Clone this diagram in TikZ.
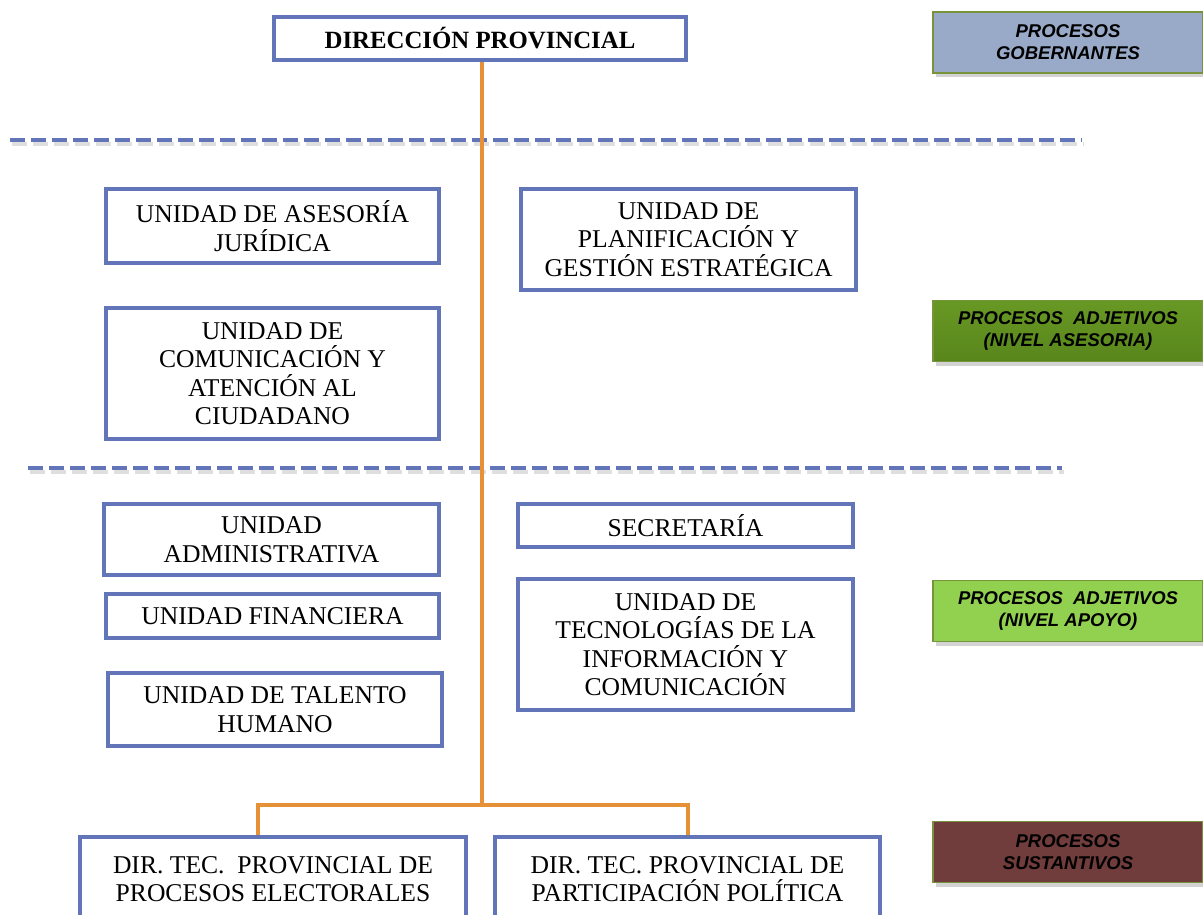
\documentclass[tikz,border=0pt]{standalone}
\usepackage{fontspec}
\setmainfont{Liberation Serif}
\newfontfamily\procfont{Liberation Sans}
\usetikzlibrary{shadows}

\definecolor{boxblue}{RGB}{98,117,184}
\definecolor{lineorange}{RGB}{230,145,56}
\definecolor{procgreen}{RGB}{119,147,60}
\definecolor{govblue}{RGB}{152,170,199}
\definecolor{advgreen}{RGB}{88,134,28}
\definecolor{advgreentop}{RGB}{104,152,36}
\definecolor{supgreen}{RGB}{146,208,80}
\definecolor{submaroon}{RGB}{112,60,60}

\begin{document}
\begin{tikzpicture}[
    x=1pt, y=-1pt,
    unitbox/.style={draw=boxblue, line width=4pt, fill=white, align=center,
        inner sep=0pt, font=\fontsize{25.6}{28.5}\selectfont},
    topbox/.style={unitbox, font=\fontsize{24.8}{28}\selectfont\bfseries},
    orgline/.style={draw=lineorange, line width=4pt},
    levelline/.style={draw=boxblue, line width=4pt, dash pattern=on 15pt off 6pt},
    levelshadow/.style={draw=black!25, line width=4pt, dash pattern=on 15pt off 6pt, opacity=0.5},
    proclabel/.style={draw=procgreen, line width=1.5pt, align=center, inner sep=0pt,
        minimum width=270pt, minimum height=61pt,
        font=\procfont\fontsize{18.5}{22}\selectfont\bfseries\itshape,
        drop shadow={shadow xshift=3pt, shadow yshift=-4pt, opacity=0.35}}
]
\useasboundingbox (0,0) rectangle (1203,914);

% ---------- Level separators ----------
\draw[levelshadow] (12,144) -- (1084,144);
\draw[levelline] (10,140) -- (1082,140);
\draw[levelshadow] (30,472) -- (1064,472);
\draw[levelline] (28,468) -- (1062,468);

% ---------- Boxes ----------
\node[topbox, minimum width=412pt, minimum height=43pt] (dirprov) at (480,38)
    {DIRECCIÓN PROVINCIAL};

\node[unitbox, minimum width=333pt, minimum height=74pt] (juridica) at (272.5,226)
    {UNIDAD DE ASESORÍA\\JURÍDICA};
\node[unitbox, minimum width=335pt, minimum height=101pt] (planificacion) at (688.5,239.5)
    {UNIDAD DE\\PLANIFICACIÓN Y\\GESTIÓN ESTRATÉGICA};
\node[unitbox, minimum width=333pt, minimum height=131pt] (comunicacion) at (272.5,373.5)
    {UNIDAD DE\\COMUNICACIÓN Y\\ATENCIÓN AL\\CIUDADANO};

\node[unitbox, minimum width=335pt, minimum height=71pt] (administrativa) at (271.5,539.5)
    {UNIDAD\\ADMINISTRATIVA};
\node[unitbox, minimum width=335pt, minimum height=43pt] (secretaria) at (685.5,525.5)
    {SECRETARÍA};
\node[unitbox, minimum width=333pt, minimum height=44pt] (financiera) at (272.5,616)
    {UNIDAD FINANCIERA};
\node[unitbox, minimum width=335pt, minimum height=131pt] (tecnologias) at (685.5,644.5)
    {UNIDAD DE\\TECNOLOGÍAS DE LA\\INFORMACIÓN Y\\COMUNICACIÓN};
\node[unitbox, minimum width=334pt, minimum height=73pt] (talento) at (275,709.5)
    {UNIDAD DE TALENTO\\HUMANO};

\node[unitbox, minimum width=386pt, minimum height=84pt] (electorales) at (273,879)
    {DIR. TEC.\ \ PROVINCIAL DE\\PROCESOS ELECTORALES};
\node[unitbox, minimum width=385pt, minimum height=84pt] (participacion) at (687.5,879)
    {DIR. TEC. PROVINCIAL DE\\PARTICIPACIÓN POLÍTICA};

% ---------- Connectors ----------
\coordinate (split) at (482,805);
\draw[orgline] (dirprov.south -| split) -- (split);
\draw[orgline] (split) -| ([xshift=-15pt]electorales.north);
\draw[orgline] (split) -| (participacion.north);

% ---------- Process labels ----------
\node[proclabel, fill=govblue] (gobernantes) at (1068,42.5)
    {PROCESOS\\GOBERNANTES};
\node[proclabel, top color=advgreentop, bottom color=advgreen] (asesoria) at (1068,331)
    {PROCESOS\ \ ADJETIVOS\\(NIVEL ASESORIA)};
\node[proclabel, fill=supgreen] (apoyo) at (1068,611)
    {PROCESOS\ \ ADJETIVOS\\(NIVEL APOYO)};
\node[proclabel, fill=submaroon] (sustantivos) at (1068,852)
    {PROCESOS\\SUSTANTIVOS};

\end{tikzpicture}
\end{document}
